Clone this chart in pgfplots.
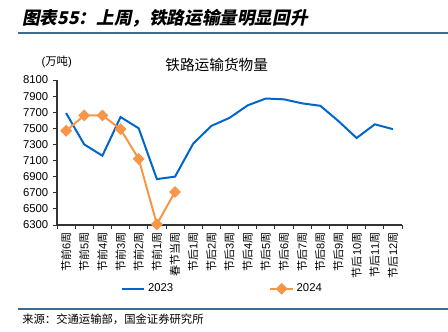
\documentclass[border=0pt]{standalone}
\usepackage{fontspec}
\usepackage{pgfplots}
\pgfplotsset{compat=1.18}
\setmainfont{Liberation Sans}
\newfontfamily\cjk{Noto Sans CJK SC}
\newfontfamily\cjkt[FakeSlant=0.2]{Noto Sans CJK SC}
\newcommand{\zh}[1]{{\cjk #1}}
\definecolor{blueline}{RGB}{0,102,204}
\definecolor{orangeline}{RGB}{247,150,70}
\definecolor{headline}{RGB}{62,108,140}
\begin{document}
\begin{tikzpicture}
\path[use as bounding box] (0,0) rectangle (336pt,248.25pt);
% header
\node[anchor=west,inner sep=0pt] at (16.5pt,234.75pt) {\cjkt\bfseries\fontsize{13.2}{15}\selectfont 图表55：上周，铁路运输量明显回升};
\draw[headline,line width=1pt] (13.5pt,223.5pt) -- (336pt,223.5pt);
\draw[headline,line width=1pt] (13.5pt,16.5pt) -- (336pt,16.5pt);
\node[anchor=west,inner sep=0pt] at (16.5pt,8.5pt) {\cjk\fontsize{8.5}{10}\selectfont 来源：交通运输部，国金证券研究所};
\node at (162.5pt,199.5pt) {\cjk\fontsize{11}{13}\selectfont 铁路运输货物量};
\node at (42.5pt,202pt) {\fontsize{8.5}{9}\selectfont (\zh{万吨})};
\begin{axis}[
  at={(42.75pt,79.5pt)}, anchor=south west,
  scale only axis, width=258.75pt, height=108.75pt,
  xmin=-0.5, xmax=18.5, ymin=6300, ymax=8100,
  ytick={6300,6500,...,8100},
  axis x line*=bottom, axis y line*=left,
  axis line style={-, line width=0.8pt, black!80},
  tick align=outside,
  major tick length=3pt, minor tick length=3pt,
  tick style={black!80, line width=0.6pt},
  xtick={0,...,18},
  major x tick style={draw=none},
  minor xtick={-0.5,0.5,...,18.5},
  xticklabels={{\zh{节前}6\zh{周}},{\zh{节前}5\zh{周}},{\zh{节前}4\zh{周}},{\zh{节前}3\zh{周}},{\zh{节前}2\zh{周}},{\zh{节前}1\zh{周}},{\zh{春节当周}},{\zh{节后}1\zh{周}},{\zh{节后}2\zh{周}},{\zh{节后}3\zh{周}},{\zh{节后}4\zh{周}},{\zh{节后}5\zh{周}},{\zh{节后}6\zh{周}},{\zh{节后}7\zh{周}},{\zh{节后}8\zh{周}},{\zh{节后}9\zh{周}},{\zh{节后}10\zh{周}},{\zh{节后}11\zh{周}},{\zh{节后}12\zh{周}}},
  x tick label style={rotate=90, anchor=east, font=\fontsize{8.3}{9}\selectfont, inner sep=2.5pt},
  y tick label style={font=\fontsize{8.5}{9}\selectfont},
  /pgf/number format/assume math mode=true,
  /pgf/number format/1000 sep={},
  clip=false,
  legend style={at={(0.48,-0.44)}, anchor=center, draw=none, legend columns=2, font=\fontsize{8.5}{9}\selectfont, /tikz/every even column/.append style={column sep=70pt}},
]
\addplot[blueline, line width=1.5pt] coordinates {
(0,7690) (1,7300) (2,7160) (3,7640) (4,7500) (5,6870) (6,6900) (7,7310) (8,7530) (9,7630) (10,7785) (11,7870) (12,7860) (13,7810) (14,7780) (15,7590) (16,7380) (17,7550) (18,7490)};
\addlegendentry{2023}
\addplot[orangeline, line width=1.5pt, mark=square*, mark size=2.4pt, mark options={rotate=45, fill=orangeline, draw=orangeline}] coordinates {
(0,7470) (1,7660) (2,7660) (3,7490) (4,7120) (5,6310) (6,6710)};
\addlegendentry{2024}
\end{axis}
\end{tikzpicture}
\end{document}
